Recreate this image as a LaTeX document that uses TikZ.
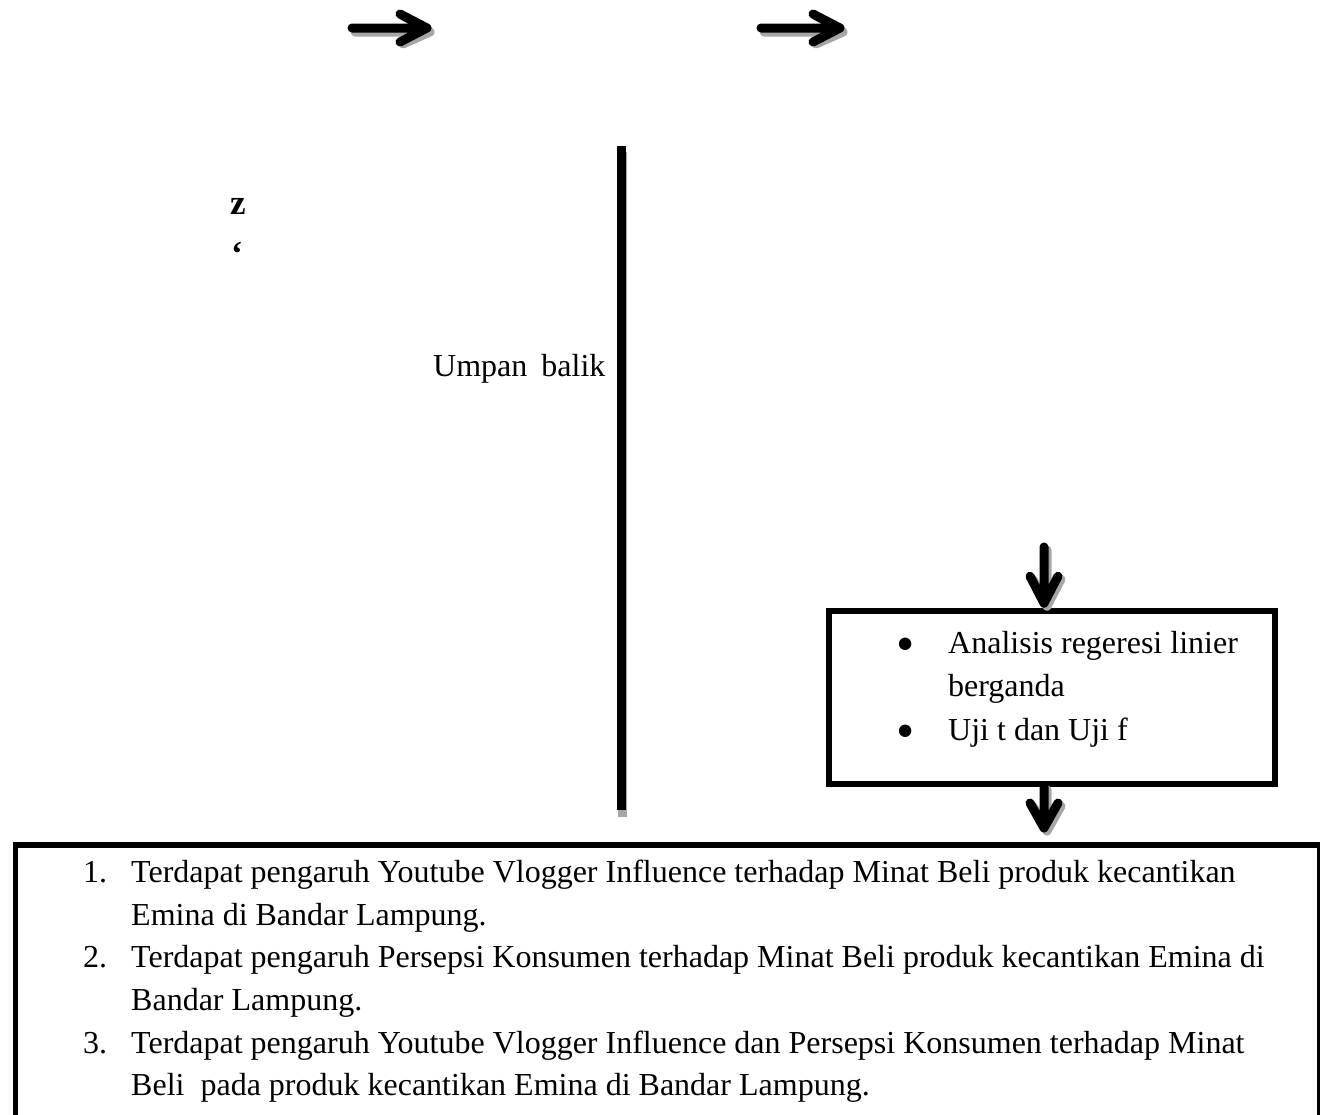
\documentclass[tikz,border=0pt]{standalone}
\usepackage{fontspec}
\setmainfont{Liberation Serif}
\usetikzlibrary{calc}
\begin{document}
\begin{tikzpicture}[x=1pt,y=-1pt,
  fat/.style={line width=9pt,line cap=round,line join=round},
  shade/.style={fat,draw=black!35},
  frame/.style={draw,line width=5.5pt,inner sep=0pt,rectangle},
  txt/.style={inner sep=0pt,anchor=base west,font=\fontsize{32}{43}\selectfont},
  bul/.style={inner sep=0pt,anchor=center,font=\fontsize{52}{43}\selectfont}]
\useasboundingbox (0,0) rectangle (1320,1114);

% horizontal arrows (free ends)
\coordinate (a1t) at (352,28); \coordinate (a1h) at (427,28);
\coordinate (a2t) at (761,28); \coordinate (a2h) at (840,28);
\foreach \t/\h in {a1t/a1h,a2t/a2h}{
  \draw[shade] ([shift={(3,4)}]\t) -- ([shift={(3,4)}]\h)
     ([shift={(-24,-12)}]\h) -- ([shift={(3,4)}]\h) -- ([shift={(-24,16)}]\h);
  \draw[fat] (\t) -- (\h) ([shift={(-27,-14)}]\h) -- (\h) -- ([shift={(-27,14)}]\h);
}

% stray characters
\node[txt,anchor=center,font=\fontsize{35}{43}\selectfont\bfseries] (z) at (238,206) {z};
\node[txt,anchor=center,font=\fontsize{35}{43}\selectfont\bfseries] (q) at (237,254) {‘};

% vertical line
\coordinate (vtop) at (621.5,146); \coordinate (vbot) at (621.5,810);
\draw[line width=9pt,draw=black!35] ([shift={(1,6)}]vtop) -- ([shift={(1,7)}]vbot);
\draw[line width=9pt] (vtop) -- (vbot);
\node[txt] (umpan) at (433,376) {Umpan\hspace{14pt}balik};

% analysis box
\node[frame,minimum width=446pt,minimum height=173pt] (box) at (1052,697.5) {};
\node[bul] (b1) at (906,650) {\textbullet};
\node[txt] (t1) at (948,653) {Analisis regeresi linier};
\node[txt] (t2) at (948,696) {berganda};
\node[bul] (b2) at (906,737) {\textbullet};
\node[txt] (t3) at (948,740) {Uji t dan Uji f};

% bottom box
\node[frame,minimum width=1304.5pt,minimum height=320pt,anchor=north west] (res) at (12.5,842) {};
\node[txt] (n1) at (83,882) {1.};
\node[txt] (l1) at (131,882) {Terdapat pengaruh Youtube Vlogger Influence terhadap Minat Beli produk kecantikan};
\node[txt] (l2) at (131,925) {Emina di Bandar Lampung.};
\node[txt] (n2) at (83,967) {2.};
\node[txt] (l3) at (131,967) {Terdapat pengaruh Persepsi Konsumen terhadap Minat Beli produk kecantikan Emina di};
\node[txt] (l4) at (131,1010) {Bandar Lampung.};
\node[txt] (n3) at (83,1053) {3.};
\node[txt] (l5) at (131,1053) {Terdapat pengaruh Youtube Vlogger Influence dan Persepsi Konsumen terhadap Minat};
\node[txt] (l6) at (131,1095) {Beli\hspace{8pt} pada produk kecantikan Emina di Bandar Lampung.};

% down arrows
\coordinate (d1s) at (1044,547);
\coordinate (d1e) at ($(box.north -| d1s)+(0,-5)$);
\draw[shade] ([shift={(3,3)}]d1s) -- ([shift={(3,3)}]d1e)
   ([shift={(-11,-24)}]d1e) -- ([shift={(3,3)}]d1e) -- ([shift={(17,-24)}]d1e);
\draw[fat] (d1s) -- (d1e) ([shift={(-14,-27)}]d1e) -- (d1e) -- ([shift={(14,-27)}]d1e);

\coordinate (d2s) at (box.south -| d1s);
\coordinate (d2e) at ($(res.north -| d1s)+(0,-14)$);
\draw[shade] ([shift={(3,3)}]d2s) -- ([shift={(3,3)}]d2e)
   ([shift={(-11,-22)}]d2e) -- ([shift={(3,3)}]d2e) -- ([shift={(17,-22)}]d2e);
\draw[fat] (d2s) -- (d2e) ([shift={(-14,-25)}]d2e) -- (d2e) -- ([shift={(14,-25)}]d2e);
\end{tikzpicture}
\end{document}
